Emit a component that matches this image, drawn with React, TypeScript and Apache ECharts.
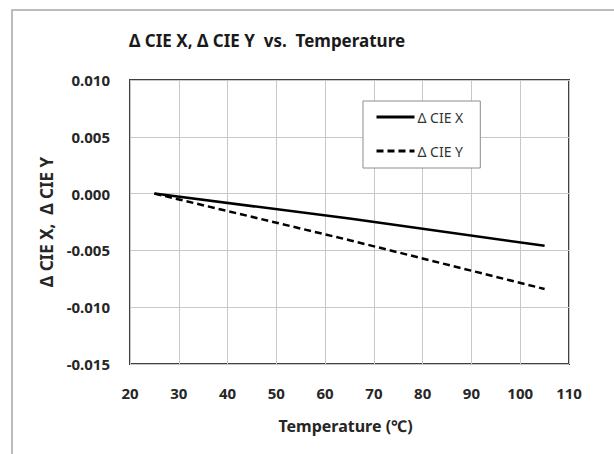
import React, { useEffect, useRef } from "react";
import * as echarts from "echarts";

const temperatures = [25, 65, 105];
const deltaCieX = [0, -0.0022, -0.0046];
const deltaCieY = [0, -0.0041, -0.0084];
const seriesNames = ["Δ CIE X", "Δ CIE Y"];
const titleText = "Δ CIE X, Δ CIE Y  vs.  Temperature";
const xAxisName = "Temperature (℃)";
const yAxisName = "Δ CIE X,  Δ CIE Y";

const FONT = "'Noto Sans', sans-serif";

export default function App() {
  const ref = useRef<HTMLDivElement>(null);
  useEffect(() => {
    if (!ref.current) return;
    const chart = echarts.init(ref.current, undefined, { renderer: "svg" });
    const toPairs = (ys: number[]) => temperatures.map((t, i) => [t, ys[i]]);
    chart.setOption({
      animation: false,
      backgroundColor: "#ffffff",
      textStyle: { fontFamily: FONT },
      graphic: [
        {
          type: "rect",
          z: -10,
          shape: { x: 12, y: 10, width: 700, height: 600 },
          style: { fill: "none", stroke: "#a6a6a6", lineWidth: 1.5 },
          silent: true,
        },
        {
          type: "text",
          x: 267,
          y: 40,
          style: {
            text: titleText,
            textAlign: "center",
            textVerticalAlign: "middle",
            font: `bold 17px ${FONT}`,
            fill: "#1a1a1a",
          },
        },
      ],
      grid: {
        left: 130,
        top: 80,
        width: 439,
        height: 284,
        show: true,
        borderColor: "#404040",
        borderWidth: 2,
        backgroundColor: "transparent",
        containLabel: false,
      },
      legend: {
        orient: "vertical",
        left: 363,
        top: 101,
        padding: [9, 17, 10, 12],
        itemWidth: 38,
        itemHeight: 14,
        itemGap: 20,
        borderColor: "#8c8c8c",
        borderWidth: 1,
        backgroundColor: "#ffffff",
        itemStyle: { opacity: 0 },
        lineStyle: { width: 3 },
        textStyle: { fontSize: 14, color: "#333333", fontFamily: FONT, padding: [0, 0, 0, -2] },
        data: seriesNames,
      },
      xAxis: {
        type: "value",
        min: 20,
        max: 110,
        interval: 10,
        name: xAxisName,
        nameLocation: "middle",
        nameGap: 54,
        nameTextStyle: {
          fontSize: 16,
          fontWeight: "bold",
          color: "#262626",
          fontFamily: FONT,
          padding: [0, 8, 0, 0],
        },
        axisLine: { show: false },
        axisTick: { show: false },
        axisLabel: { fontSize: 15, fontWeight: "bold", color: "#262626", margin: 21, fontFamily: FONT },
        splitLine: { show: true, lineStyle: { color: "#c8c8c8", width: 1 } },
      },
      yAxis: {
        type: "value",
        min: -0.015,
        max: 0.01,
        interval: 0.005,
        name: yAxisName,
        nameLocation: "middle",
        nameGap: 75,
        nameTextStyle: { fontSize: 17, fontWeight: "bold", color: "#262626", fontFamily: FONT },
        axisLine: { show: false },
        axisTick: { show: false },
        axisLabel: {
          fontSize: 15,
          fontWeight: "bold",
          color: "#262626",
          margin: 20,
          fontFamily: FONT,
          formatter: (v: number) => v.toFixed(3),
        },
        splitLine: { show: true, lineStyle: { color: "#c8c8c8", width: 1 } },
      },
      series: [
        {
          name: seriesNames[0],
          type: "line",
          data: toPairs(deltaCieX),
          symbol: "none",
          lineStyle: { color: "#000000", width: 2.5, type: "solid" },
          itemStyle: { color: "#000000" },
        },
        {
          name: seriesNames[1],
          type: "line",
          data: toPairs(deltaCieY),
          symbol: "none",
          lineStyle: { color: "#000000", width: 2.5, type: [7, 4] },
          itemStyle: { color: "#000000" },
        },
      ],
    });
    return () => chart.dispose();
  }, []);
  return (
    <div
      ref={ref}
      style={{ position: "absolute", left: 0, top: 0, width: 614, height: 454 }}
    />
  );
}
